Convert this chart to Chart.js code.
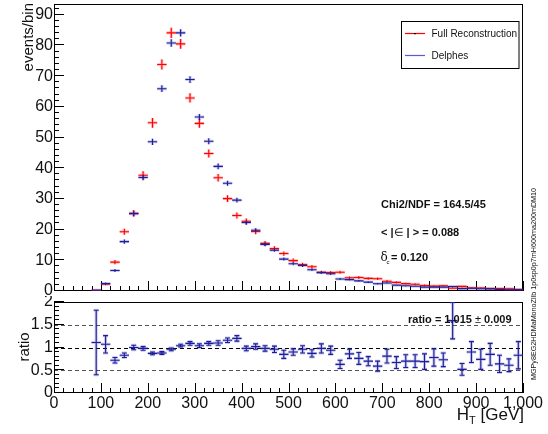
<!DOCTYPE html>
<html>
<head>
<meta charset="utf-8">
<script src="https://cdn.jsdelivr.net/npm/chart.js@4.4.1/dist/chart.umd.min.js"></script>
<style>
  html, body { margin: 0; padding: 0; background: #fff; }
  #wrap { position: relative; width: 548px; height: 434px; overflow: hidden; }
  #cTop { position: absolute; left: 0; top: 0; }
  #cBot { position: absolute; left: 0; top: 296px; }
</style>
</head>
<body>
<div id="wrap">
  <canvas id="cTop" width="548" height="300"></canvas>
  <canvas id="cBot" width="548" height="138"></canvas>
</div>
<script>
// H_T bins, 20 GeV wide
const binCenters = [90, 110, 130, 150, 170, 190, 210, 230, 250, 270, 290, 310, 330, 350, 370, 390,
  410, 430, 450, 470, 490, 510, 530, 550, 570, 590, 610, 630, 650, 670, 690, 710, 730, 750, 770,
  790, 810, 830, 850, 870, 890, 910, 930, 950, 970, 990];

const fullReco = [0.2, 2.3, 9.4, 19.3, 25.3, 37.7, 54.8, 73.8, 84.1, 80.5, 62.9, 54.6, 44.8, 36.9,
  30.1, 24.6, 22.7, 19.4, 15.5, 13.8, 12.2, 9.9, 8.6, 7.9, 6.1, 6.0, 6.1, 4.3, 4.4, 4.1, 4.0, 3.2,
  2.8, 2.4, 2.2, 1.8, 1.6, 1.7, 0.9, 1.5, 1.0, 1.0, 0.8, 0.8, 0.7, 0.5];
const fullRecoErr = [0.1, 0.4, 0.7, 1.0, 1.1, 1.3, 1.6, 1.6, 1.7, 1.6, 1.5, 1.4, 1.3, 1.2, 1.1, 1.0,
  0.95, 0.9, 0.8, 0.75, 0.7, 0.65, 0.6, 0.55, 0.5, 0.5, 0.5, 0.45, 0.45, 0.4, 0.4, 0.35, 0.35, 0.3,
  0.3, 0.3, 0.25, 0.25, 0.2, 0.25, 0.2, 0.2, 0.2, 0.2, 0.15, 0.15];

const delphes = [0.22, 2.4, 6.7, 16.1, 25.2, 37.0, 48.6, 65.9, 80.8, 84.1, 68.9, 56.7, 48.8, 40.6,
  35.1, 29.6, 22.3, 19.8, 15.2, 13.3, 10.4, 8.9, 8.3, 6.9, 6.0, 5.6, 3.9, 3.7, 3.3, 2.9, 2.35, 2.6,
  1.9, 1.7, 1.55, 1.25, 1.25, 1.25, 1.45, 0.78, 0.9, 0.74, 0.68, 0.51, 0.43, 0.42];
const delphesErr = [0.1, 0.3, 0.5, 0.7, 0.8, 0.9, 1.0, 1.1, 1.2, 1.2, 1.1, 1.0, 1.0, 0.9, 0.85, 0.8,
  0.7, 0.65, 0.6, 0.55, 0.5, 0.5, 0.45, 0.4, 0.4, 0.4, 0.35, 0.3, 0.3, 0.3, 0.25, 0.25, 0.2, 0.2,
  0.2, 0.2, 0.2, 0.2, 0.2, 0.15, 0.15, 0.15, 0.15, 0.12, 0.12, 0.12];

// Delphes / full reconstruction
const ratio = [1.11, 1.07, 0.72, 0.83, 1.0, 0.98, 0.87, 0.88, 0.96, 1.04, 1.09, 1.04, 1.09, 1.1,
  1.16, 1.2, 0.98, 1.02, 0.98, 0.96, 0.85, 0.9, 0.96, 0.87, 0.98, 0.94, 0.63, 0.86, 0.76, 0.70,
  0.59, 0.81, 0.67, 0.70, 0.70, 0.69, 0.78, 0.73, 1.59, 0.52, 0.90, 0.74, 0.85, 0.64, 0.61, 0.83];
const ratioErr = [0.71, 0.19, 0.06, 0.05, 0.05, 0.04, 0.03, 0.03, 0.03, 0.03, 0.04, 0.04, 0.04,
  0.05, 0.05, 0.06, 0.05, 0.06, 0.06, 0.07, 0.09, 0.07, 0.08, 0.08, 0.1, 0.09, 0.09, 0.1, 0.13,
  0.1, 0.11, 0.15, 0.13, 0.14, 0.14, 0.17, 0.19, 0.15, 0.4, 0.13, 0.23, 0.22, 0.24, 0.19, 0.14, 0.3];

const BIN_HALF = 10;
const FONT = '"Liberation Sans", Arial, Helvetica, sans-serif';
const RED = '#ff0000', BLUE = '#1c1c9c';

Chart.defaults.font.family = FONT;

const pts = (vals) => binCenters.map((c, i) => ({ x: c, y: vals[i] }));

// ROOT-like frame with inward ticks
function drawFrame(chart, t) {
  const { ctx, chartArea: a, scales: { x, y } } = chart;
  ctx.save();
  ctx.strokeStyle = '#000';
  ctx.lineWidth = 1;
  ctx.beginPath();
  for (let v = 0; v <= 1000; v += 20) {
    const px = Math.round(x.getPixelForValue(v)) + 0.5;
    ctx.moveTo(px, a.bottom);
    ctx.lineTo(px, a.bottom - (v % 100 === 0 ? t.xMajor : t.xMinor));
  }
  for (let k = 0; k * t.yStep <= y.max + 1e-9; k++) {
    const py = Math.round(y.getPixelForValue(k * t.yStep)) - 0.5;
    ctx.moveTo(a.left, py);
    ctx.lineTo(a.left + (k % t.yPerMajor === 0 ? t.yMajor : t.yMinor), py);
  }
  ctx.stroke();
  ctx.strokeRect(a.left + 0.5, a.top + 0.5, a.right - a.left - 1, a.bottom - a.top - 1);
  ctx.restore();
}

// data points drawn as bin-width crosses with vertical error bars
const crossPlugin = {
  id: 'crosses',
  afterDatasetsDraw(chart) {
    const { ctx, chartArea: a, scales: { x, y } } = chart;
    ctx.save();
    ctx.beginPath();
    ctx.rect(a.left, a.top, a.right - a.left, a.bottom - a.top);
    ctx.clip();
    chart.data.datasets.forEach((ds, i) => {
      const meta = chart.getDatasetMeta(i);
      [[3, ds.halo], [1.1, ds.color]].forEach(([w, c]) => {
        ctx.strokeStyle = c;
        ctx.lineWidth = w;
        ctx.beginPath();
        meta.data.forEach((pt, j) => {
          const d = ds.data[j];
          const x0 = x.getPixelForValue(d.x - BIN_HALF), x1 = x.getPixelForValue(d.x + BIN_HALF);
          const y0 = y.getPixelForValue(d.y - ds.errors[j]), y1 = y.getPixelForValue(d.y + ds.errors[j]);
          ctx.moveTo(x0, pt.y); ctx.lineTo(x1, pt.y);
          ctx.moveTo(pt.x, y0); ctx.lineTo(pt.x, y1);
          if (ds.caps) {
            ctx.moveTo(pt.x - 2.5, y0); ctx.lineTo(pt.x + 2.5, y0);
            ctx.moveTo(pt.x - 2.5, y1); ctx.lineTo(pt.x + 2.5, y1);
          }
        });
        ctx.stroke();
      });
    });
    ctx.restore();
  }
};

const topDecor = {
  id: 'topDecor',
  beforeDatasetsDraw(chart) {
    drawFrame(chart, { xMajor: 10, xMinor: 5, yStep: 2, yPerMajor: 5, yMajor: 10, yMinor: 5 });
  },
  afterDraw(chart) {
    const { ctx } = chart;
    ctx.save();
    ctx.fillStyle = '#111';
    // y title, aligned to the top end of the axis
    ctx.save();
    ctx.translate(33, 3);
    ctx.rotate(-Math.PI / 2);
    ctx.textAlign = 'right';
    ctx.font = '15px ' + FONT;
    ctx.fillText('events/bin', 0, 0);
    ctx.restore();

    // legend
    ctx.strokeStyle = '#000';
    ctx.lineWidth = 1;
    ctx.strokeRect(401.5, 21.5, 117.5, 47);
    ctx.lineWidth = 1.2;
    ctx.strokeStyle = RED;
    ctx.beginPath(); ctx.moveTo(405, 33.5); ctx.lineTo(425, 33.5); ctx.stroke();
    ctx.fillStyle = '#000';
    ctx.fillRect(414, 33, 2, 1.2);
    ctx.strokeStyle = '#5a5ad0';
    ctx.beginPath(); ctx.moveTo(405, 55.5); ctx.lineTo(425, 55.5); ctx.stroke();
    ctx.fillStyle = '#111';
    ctx.font = '10px ' + FONT;
    ctx.textAlign = 'left';
    ctx.fillText('Full Reconstruction', 431.5, 37);
    ctx.fillText('Delphes', 431.5, 58.5);

    // fit summary
    ctx.font = 'bold 11px ' + FONT;
    ctx.fillText('Chi2/NDF = 164.5/45', 381, 208);
    ctx.fillText('< |', 381, 236);
    let w = ctx.measureText('< |').width;
    ctx.font = '11px ' + FONT;
    ctx.fillText('\u2208', 381 + w, 236);
    w += ctx.measureText('\u2208').width;
    ctx.font = 'bold 11px ' + FONT;
    ctx.fillText(' | > = 0.088', 381 + w, 236);
    ctx.font = '12px "DejaVu Serif", serif';
    ctx.fillText('\u03b4', 380.5, 261);
    ctx.font = '6px ' + FONT;
    ctx.fillText('c', 386.5, 264);
    ctx.font = 'bold 11px ' + FONT;
    ctx.fillText('= 0.120', 391, 261);
    ctx.restore();
  }
};

const botDecor = {
  id: 'botDecor',
  beforeDatasetsDraw(chart) {
    const { ctx, chartArea: a, scales: { y } } = chart;
    ctx.save();
    ctx.setLineDash([4, 3]);
    ctx.lineWidth = 1;
    [[1.5, '#555'], [1, '#000'], [0.5, '#555']].forEach(([v, c]) => {
      const py = Math.round(y.getPixelForValue(v)) + 0.5;
      ctx.strokeStyle = c;
      ctx.beginPath(); ctx.moveTo(a.left, py); ctx.lineTo(a.right, py); ctx.stroke();
    });
    ctx.restore();
    drawFrame(chart, { xMajor: 10, xMinor: 5, yStep: 0.1, yPerMajor: 5, yMajor: 10, yMinor: 5 });
  },
  afterDraw(chart) {
    const { ctx, chartArea: a } = chart;
    ctx.save();
    ctx.fillStyle = '#111';
    ctx.save();
    ctx.translate(28.5, 51);
    ctx.rotate(-Math.PI / 2);
    ctx.textAlign = 'center';
    ctx.font = '15px ' + FONT;
    ctx.fillText('ratio', 0, 0);
    ctx.restore();

    ctx.font = 'bold 11px ' + FONT;
    ctx.fillText('ratio = 1.015 ', 408, 27);
    let w = ctx.measureText('ratio = 1.015 ').width;
    ctx.font = '11px ' + FONT;
    ctx.fillText('\u00b1', 408 + w, 27);
    w += ctx.measureText('\u00b1').width;
    ctx.font = 'bold 11px ' + FONT;
    ctx.fillText(' 0.009', 408 + w, 27);

    // x title: H_T [GeV], right-aligned under the axis
    ctx.font = '17px ' + FONT;
    const tail = ' [GeV]';
    const wTail = ctx.measureText(tail).width;
    const wH = ctx.measureText('H').width;
    ctx.font = '11px ' + FONT;
    const wT = ctx.measureText('T').width;
    const right = a.right + 1;
    const base = 124;
    ctx.font = '17px ' + FONT;
    ctx.fillText(tail, right - wTail, base);
    ctx.fillText('H', right - wTail - wT - wH, base);
    ctx.font = '11px ' + FONT;
    ctx.fillText('T', right - wTail - wT, base + 4);
    ctx.restore();
  }
};

const axisY = (min, max, step, size) => ({
  min, max,
  afterFit: (s) => { s.width = 54; s.paddingTop = 0; s.paddingBottom = 0; },
  grid: { display: false, drawTicks: false },
  border: { display: false },
  ticks: {
    stepSize: step, includeBounds: false, padding: 1, color: '#111',
    font: { family: FONT, size },
    callback: (v) => String(Math.round(v * 10) / 10)
  }
});

const common = {
  responsive: false,
  animation: false,
  events: [],
  elements: { point: { radius: 0, hoverRadius: 0 } },
  plugins: { legend: { display: false }, tooltip: { enabled: false } }
};

new Chart(document.getElementById('cTop'), {
  type: 'scatter',
  data: {
    datasets: [
      { label: 'Full Reconstruction', data: pts(fullReco), errors: fullRecoErr, color: RED, halo: 'rgba(255,0,0,0.25)' },
      { label: 'Delphes', data: pts(delphes), errors: delphesErr, color: BLUE, halo: 'rgba(40,40,170,0.25)' }
    ]
  },
  options: {
    ...common,
    layout: { padding: { left: 0, right: 25, top: 4, bottom: 9 } },
    scales: {
      x: { type: 'linear', min: 0, max: 1000, display: false },
      y: axisY(0, 93.5, 10, 16)
    }
  },
  plugins: [topDecor, crossPlugin]
});

new Chart(document.getElementById('cBot'), {
  type: 'scatter',
  data: {
    datasets: [
      { label: 'ratio', data: pts(ratio), errors: ratioErr, color: BLUE, halo: 'rgba(40,40,170,0.25)', caps: true }
    ]
  },
  options: {
    ...common,
    layout: { padding: { left: 0, right: 25, top: 6, bottom: 0 } },
    scales: {
      x: {
        type: 'linear', min: 0, max: 1000,
        afterFit: (s) => { s.height = 41; s.paddingLeft = 0; s.paddingRight = 0; },
        grid: { display: false, drawTicks: false },
        border: { display: false },
        ticks: { stepSize: 100, padding: 1, autoSkip: false, maxRotation: 0, color: '#111', font: { family: FONT, size: 16 } }
      },
      y: axisY(0, 2, 0.5, 16)
    }
  },
  plugins: [botDecor, crossPlugin]
});

// sample tag along the right edge
(function () {
  const c = document.createElement('canvas');
  c.width = 20; c.height = 260;
  c.style.cssText = 'position:absolute;left:524px;top:150px;';
  document.getElementById('wrap').appendChild(c);
  const ctx = c.getContext('2d');
  ctx.translate(12, 134);
  ctx.rotate(-Math.PI / 2);
  ctx.textAlign = 'center';
  ctx.fillStyle = '#111';
  ctx.font = '7.2px ' + FONT;
  ctx.fillText('MGPy8EG2HDMaMonoZllb 1p0sp0p7mH600ma200mDM10', 0, 0);
})();
</script>
</body>
</html>
